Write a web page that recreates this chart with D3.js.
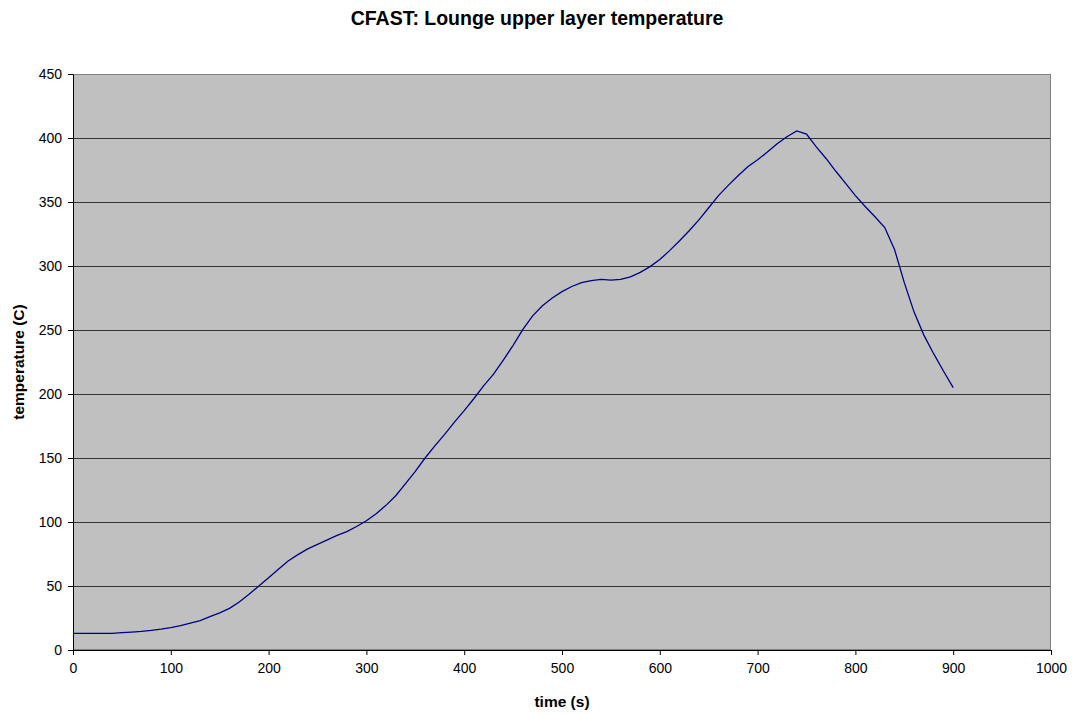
<!DOCTYPE html>
<html><head><meta charset="utf-8">
<script src="https://cdn.jsdelivr.net/npm/d3@7"></script>
<style>body{margin:0;background:#fff;}svg{display:block;font-family:"Liberation Sans",Arial,sans-serif;}</style>
</head><body><svg id="c" width="1072" height="714"></svg>
<script>
const titleText = "CFAST: Lounge upper layer temperature";
const xLabel = "time (s)";
const yLabel = "temperature (C)";
const xTicks = [0,100,200,300,400,500,600,700,800,900,1000];
const yTicks = [0,50,100,150,200,250,300,350,400,450];
const times = [0,10,20,30,40,50,60,70,80,90,100,110,120,130,140,150,160,170,180,190,200,210,220,230,240,250,260,270,280,290,300,310,320,330,340,350,360,370,380,390,400,410,420,430,440,450,460,470,480,490,500,510,520,530,540,550,560,570,580,590,600,610,620,630,640,650,660,670,680,690,700,710,720,730,740,750,760,770,780,790,800,810,820,830,840,850,860,870,880,890,900];
const temps = [13,13,13,13,13,13.5,14,14.5,15.3,16.3,17.5,19,21,23,26,29,32.5,37.5,43.5,50,56.5,63,69.5,74.5,79,82.5,86,89.5,92.5,96.5,101,106.5,113,120.5,130,139.5,150,159.5,168.5,178,187,196.5,206.5,215.5,226.5,238,250.5,261,269,275,280,284,287,288.5,289.5,289,289.5,291.5,295,299.5,305,312,319.5,327.5,336,345.5,355,363,370.5,377.5,383,389,395.5,401,405.5,403,393,384,374,364.5,355,346.5,338.5,330,313,287,264,246,231.5,218,205];

const svg = d3.select("#c");
const L=73, R=1051, T=74, B=650;
const x = d3.scaleLinear().domain([0,1000]).range([L,R]);
const y = d3.scaleLinear().domain([0,450]).range([B,T]);

svg.append("rect").attr("x",L).attr("y",T).attr("width",R-L).attr("height",B-T).attr("fill","#c0c0c0");
svg.append("g").selectAll("line").data(yTicks.filter(d=>d>0)).join("line")
  .attr("x1",L).attr("x2",R).attr("y1",d=>Math.round(y(d))+0.5).attr("y2",d=>Math.round(y(d))+0.5)
  .attr("stroke","#333").attr("stroke-width",1);
svg.append("rect").attr("x",L+0.5).attr("y",T+0.5).attr("width",R-L-1).attr("height",B-T-1).attr("fill","none").attr("stroke","#808080");

const xa = svg.append("g").attr("transform",`translate(0,${B})`)
  .call(d3.axisBottom(x).tickValues(xTicks).tickFormat(d3.format("d")).tickSizeInner(5).tickSizeOuter(0).tickPadding(8));
const ya = svg.append("g").attr("transform",`translate(${L},0)`)
  .call(d3.axisLeft(y).tickValues(yTicks).tickFormat(d3.format("d")).tickSizeInner(5).tickSizeOuter(0).tickPadding(6));
[xa,ya].forEach(a=>{a.select(".domain").attr("stroke","#000");a.selectAll("line").attr("stroke","#000");
  a.selectAll("text").attr("font-size",14).attr("font-family","Liberation Sans, Arial, sans-serif").attr("fill","#000");});

const line = d3.line().x((d,i)=>x(times[i])).y(d=>y(d));
svg.append("path").datum(temps).attr("d",line).attr("fill","none").attr("stroke","#000080").attr("stroke-width",1.3);

svg.append("text").attr("x",537).attr("y",25).attr("text-anchor","middle").attr("font-size",19.5).attr("font-weight","bold").text(titleText);
svg.append("text").attr("x",(L+R)/2).attr("y",707).attr("text-anchor","middle").attr("font-size",15.5).attr("font-weight","bold").text(xLabel);
svg.append("text").attr("transform",`translate(24,${(T+B)/2}) rotate(-90)`).attr("text-anchor","middle").attr("font-size",15.5).attr("font-weight","bold").text(yLabel);
</script></body></html>
